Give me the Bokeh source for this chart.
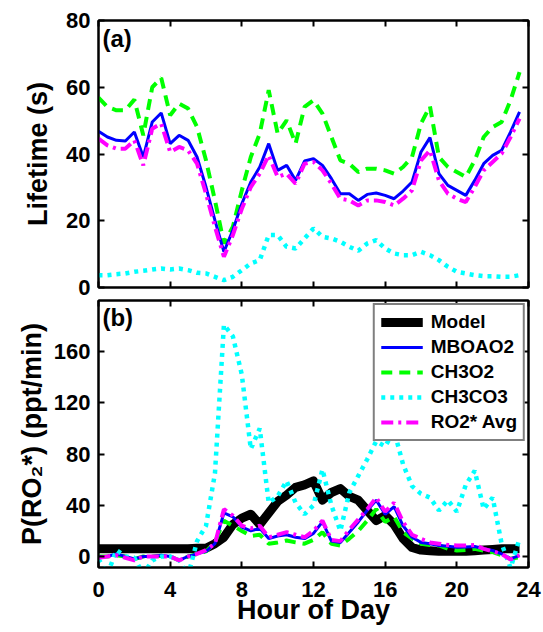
from bokeh.plotting import figure
from bokeh.models import (LinearAxis, Range1d, Legend, LegendItem, Label, FixedTicker,
                          CustomJSTickFormatter)
from bokeh.layouts import column
from bokeh.embed import file_html
from bokeh.resources import INLINE

# ---------------- data ----------------
hours = [0.0, 0.5, 1.0, 1.5, 2.0, 2.5, 3.0, 3.5, 4.0, 4.5, 5.0, 5.5,
         6.0, 6.5, 7.0, 7.5, 8.0, 8.5, 9.0, 9.5, 10.0, 10.5, 11.0, 11.5,
         12.0, 12.5, 13.0, 13.5, 14.0, 14.5, 15.0, 15.5, 16.0, 16.5, 17.0, 17.5,
         18.0, 18.5, 19.0, 19.5, 20.0, 20.5, 21.0, 21.5, 22.0, 22.5, 23.0, 23.5]

x_ticks = [0, 4, 8, 12, 16, 20, 24]
life_ticks = [0, 20, 40, 60, 80]
prod_ticks = [0, 40, 80, 120, 160]

# (a) lifetime (s)
life_mboao2 = [46.8, 45.1, 44.1, 43.9, 46.6, 39.1, 49.6, 52.3, 43.1, 45.6, 44.1, 39.1,
               30.1, 20.1, 10.7, 17.2, 25.1, 31.6, 36.1, 43.1, 35.1, 36.6, 32.1, 37.9,
               38.6, 36.6, 32.6, 28.1, 28.1, 26.1, 27.9, 28.3, 27.6, 26.6, 28.9, 31.6,
               40.6, 44.9, 34.1, 30.6, 29.1, 27.6, 32.1, 37.1, 39.6, 41.1, 46.6, 52.6]
life_ch3o2 = [56.9, 54.1, 53.1, 53.1, 56.3, 45.6, 60.0, 62.8, 51.6, 55.1, 53.6, 48.1,
              38.1, 26.1, 13.2, 18.2, 29.1, 39.1, 46.1, 59.1, 46.1, 50.1, 43.1, 54.1,
              56.1, 52.1, 45.1, 38.1, 37.1, 34.6, 35.6, 35.6, 35.1, 34.1, 36.1, 39.1,
              49.1, 54.3, 39.1, 36.1, 34.6, 33.1, 38.1, 45.1, 48.1, 49.6, 56.1, 64.5]
life_ch3co3 = [3.7, 3.7, 4.0, 4.2, 4.7, 5.0, 5.4, 5.7, 5.4, 5.7, 5.2, 4.4,
               4.2, 3.2, 2.2, 3.2, 5.2, 7.2, 8.2, 15.7, 15.7, 12.2, 11.7, 14.7,
               17.7, 15.2, 14.7, 13.7, 12.2, 11.0, 13.2, 14.2, 11.7, 10.2, 9.7, 9.7,
               10.7, 9.7, 8.2, 6.2, 4.7, 4.2, 3.7, 3.4, 3.4, 3.2, 3.2, 3.7]
life_avg = [44.6, 42.6, 41.6, 41.6, 44.1, 36.6, 47.6, 49.1, 40.6, 42.1, 41.1, 37.1,
            28.1, 18.2, 9.2, 15.7, 23.6, 30.1, 34.1, 39.6, 33.1, 34.1, 31.1, 37.1,
            37.6, 35.1, 31.1, 26.6, 26.1, 24.6, 26.1, 26.1, 25.6, 24.6, 26.6, 29.1,
            38.1, 41.1, 32.1, 28.1, 26.6, 25.6, 30.1, 35.1, 37.6, 40.1, 45.1, 50.6]

# (b) production rate P(RO2*) (ppt/min)
p_model = [6, 6, 6, 6, 6, 6, 6, 6, 6, 6, 6, 6.5,
           6.5, 10, 15, 25, 30, 33, 25, 34, 43, 48, 54, 56,
           59, 44, 50, 53, 47, 44, 36, 28, 32, 25, 14, 7,
           5, 4.5, 4, 4, 4, 4, 4.5, 5, 5.5, 6, 6, 6]
p_mboao2 = [0, 0, 2, 0, -2, 0, 0, 1, 0, -3, 0, 2,
            4, 10, 34, 31, 23, 20, 22, 14, 16, 17, 15, 14,
            18, 27, 12, 11, 19, 27, 36, 44, 33, 39, 24, 15,
            11, 10, 8.5, 8, 7.3, 7.5, 7.8, 6, 4.7, 2, -1.8, 0.8]
p_ch3o2 = [0, 0, 1, 0, -2, 0, 0, 0.5, 0, -3, 0, 2,
           4, 11, 28, 24, 20, 16, 17, 10, 11, 12.5, 11, 10,
           13, 19, 10, 8.6, 14, 20, 28, 37, 27, 31, 19, 14,
           10, 9, 8.6, 6, 4.7, 5, 6, 4.5, 3.4, 1, -1.8, -0.5]
p_ch3co3 = [-2, -14, 5, 0, -1, -14, -3, 0, 0, -3, -15, 12,
            24, 65, 181, 172, 142, 84, 100, 42, 47, 59, 42, 33,
            40, 68, 40, 20, 50, 63, 76, 90, 86, 98, 72, 55,
            49, 46, 36, 44, 35, 56, 67, 37, 46, 10, -9, 14]
p_avg = [-1, 0, 1, -1, -3, 0, 0, 0, 0, -3, 0, 2,
         5, 10, 37, 32, 24, 22, 24, 15, 17, 19, 17, 15,
         20, 28, 13, 12, 21, 29, 37, 46, 35, 42, 27, 17,
         13.8, 11, 10, 9, 8.6, 8.6, 9, 6, 4, 2, -2.3, 1]

series_names = ["Model", "MBOAO2", "CH3O2", "CH3CO3", "RO2* Avg"]

# ---------------- styles ----------------
FONT = "Liberation Sans"
BLUE, GREEN, CYAN, MAGENTA = "#0000FF", "#00FF00", "#00FFFF", "#FF00FF"
W = 543


def style_axis(ax, ticks, labels=True, size="22px", standoff=8):
    ax.ticker = FixedTicker(ticks=ticks)
    ax.major_tick_in = 6
    ax.major_tick_out = 0
    ax.minor_tick_in = 0
    ax.minor_tick_out = 0
    ax.major_tick_line_width = 2
    ax.major_tick_line_color = "black"
    ax.axis_line_width = 2
    ax.axis_line_color = "black"
    ax.major_label_text_font = FONT
    ax.major_label_text_font_style = "bold"
    ax.major_label_text_color = "black"
    if labels:
        ax.major_label_text_font_size = size
        ax.major_label_standoff = standoff
    else:
        ax.formatter = CustomJSTickFormatter(code="return ''")
        ax.major_label_text_font_size = "1px"
        ax.major_label_standoff = 0
    ax.axis_label_text_font = FONT
    ax.axis_label_text_font_style = "bold"
    ax.axis_label_text_font_size = "27px"
    ax.axis_label_text_color = "black"


def make_fig(height, y_range, yticks, ylabel, label_standoff, border_top, border_bottom,
             xlabels, xlabel=None):
    p = figure(width=W, height=height, x_range=Range1d(0, 24), y_range=y_range,
               output_backend="svg", toolbar_location=None,
               x_axis_location=None, y_axis_location=None,
               min_border_left=98, min_border_right=15,
               min_border_top=border_top, min_border_bottom=border_bottom)
    p.grid.visible = False
    p.outline_line_color = "black"
    p.outline_line_width = 2
    p.background_fill_color = "white"
    p.border_fill_color = "white"

    bottom = LinearAxis()
    style_axis(bottom, x_ticks, labels=xlabels, standoff=14)
    if xlabel:
        bottom.axis_label = xlabel
        bottom.axis_label_standoff = -5
    p.add_layout(bottom, "below")

    left = LinearAxis()
    style_axis(left, yticks, labels=True)
    left.axis_label = ylabel
    left.axis_label_standoff = label_standoff
    p.add_layout(left, "left")

    top = LinearAxis()
    style_axis(top, x_ticks, labels=False)
    p.add_layout(top, "above")

    right = LinearAxis()
    style_axis(right, yticks, labels=False)
    p.add_layout(right, "right")
    return p


# ---------------- panel (a) ----------------
p1 = make_fig(299, Range1d(0, 80), life_ticks, "Lifetime (s)", 10, 20, 12, False)
p1.line(hours, life_ch3o2, line_color=GREEN, line_width=4, line_dash="11 7")
p1.line(hours, life_ch3co3, line_color=CYAN, line_width=4.5, line_dash="4 5")
p1.line(hours, life_mboao2, line_color=BLUE, line_width=3)
p1.line(hours, life_avg, line_color=MAGENTA, line_width=4, line_dash="12 5 3 5")
p1.add_layout(Label(x=0.22, y=78.8, text="(a)", text_font=FONT, text_font_style="bold",
                    text_font_size="24px", text_baseline="top", text_color="black"))

# ---------------- panel (b) ----------------
p2 = make_fig(333, Range1d(-8.6, 200), prod_ticks, "P(RO\u2082*) (ppt/min)", 4, 1, 65,
              True, xlabel="Hour of Day")
r_model = p2.line(hours, p_model, line_color="black", line_width=9, line_join="round")
r_ch3o2 = p2.line(hours, p_ch3o2, line_color=GREEN, line_width=4, line_dash="11 7")
r_mbo = p2.line(hours, p_mboao2, line_color=BLUE, line_width=3)
r_ch3co3 = p2.line(hours, p_ch3co3, line_color=CYAN, line_width=4.5, line_dash="4 5")
r_avg = p2.line(hours, p_avg, line_color=MAGENTA, line_width=4, line_dash="12 5 3 5")
p2.add_layout(Label(x=0.22, y=197.3, text="(b)", text_font=FONT, text_font_style="bold",
                    text_font_size="24px", text_baseline="top", text_color="black"))

legend = Legend(items=[LegendItem(label=series_names[0], renderers=[r_model]),
                       LegendItem(label=series_names[1], renderers=[r_mbo]),
                       LegendItem(label=series_names[2], renderers=[r_ch3o2]),
                       LegendItem(label=series_names[3], renderers=[r_ch3co3]),
                       LegendItem(label=series_names[4], renderers=[r_avg])],
                location="top_right", margin=3, padding=6, spacing=3,
                glyph_width=42, glyph_height=20, label_height=20, label_standoff=8,
                label_text_font=FONT, label_text_font_style="bold",
                label_text_font_size="19px", label_text_color="black",
                border_line_color="black", border_line_width=2,
                background_fill_color="white", background_fill_alpha=1.0)
p2.add_layout(legend, "center")

layout = column(p1, p2)
open("out.html", "w").write(file_html(layout, INLINE))
